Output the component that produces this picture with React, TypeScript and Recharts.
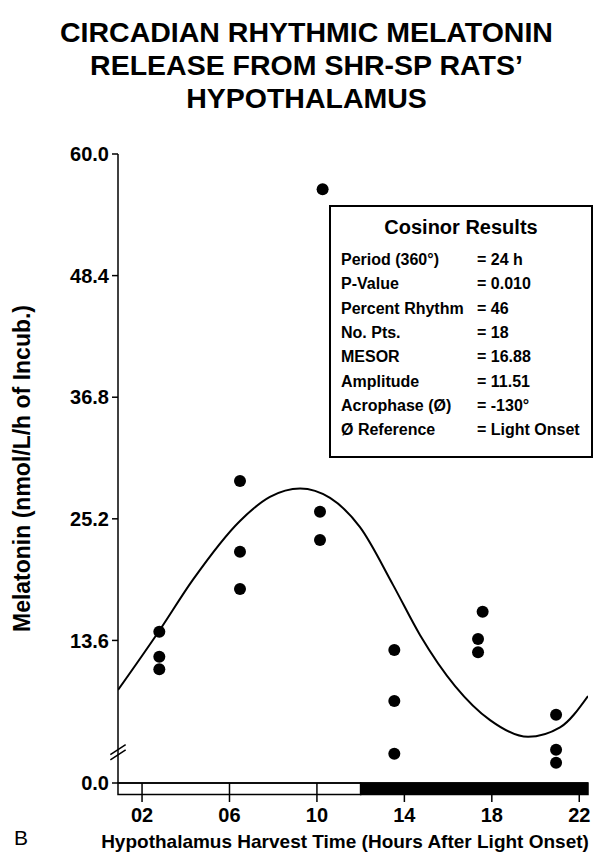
import React from "react"
import {
  ComposedChart,
  Line,
  Scatter,
  XAxis,
  YAxis,
  ReferenceArea,
  ReferenceLine,
} from "recharts"

// harvest time (h after light onset) and melatonin per animal
const harvestHours = [2.79, 2.79, 2.79, 6.48, 6.48, 6.48, 10.14, 10.14, 10.26, 13.54, 13.54, 13.54, 17.58, 17.37, 17.37, 20.94, 20.94, 20.94]
const melatonin = [14.43, 12.05, 10.85, 28.81, 22.06, 18.51, 25.88, 23.18, 56.64, 12.69, 7.82, 2.8, 16.34, 13.74, 12.47, 6.52, 3.18, 1.94]

// fitted cosinor curve
const fitHours = [0.9, 2.78, 4.33, 6.48, 7.85, 9.23, 10.6, 11.97, 13.48, 14.72, 16.32, 17.92, 19.66, 21.12, 22.4]
const fitValues = [8.87, 14.5, 19.4, 25.0, 27.3, 28.1, 27.2, 24.4, 18.9, 14.1, 9.25, 6.0, 4.4, 5.3, 8.3]

const xTicks = [2, 6, 10, 14, 18, 22]
const yTicks = [0, 13.6, 25.2, 36.8, 48.4, 60]

// light / dark phases
const phaseStart = [0.9, 12]
const phaseEnd = [12, 22.4]
const phaseDark = [false, true]

const cosinorLabels = ["Period (360°)", "P-Value", "Percent Rhythm", "No. Pts.", "MESOR", "Amplitude", "Acrophase (Ø)", "Ø Reference"]
const cosinorValues = ["= 24 h", "= 0.010", "= 46", "= 18", "= 16.88", "= 11.51", "= -130°", "= Light Onset"]

const points = harvestHours.map((h, i) => ({ hour: h, value: melatonin[i] }))
const fit = fitHours.map((h, i) => ({ hour: h, value: fitValues[i] }))

const font = '"Liberation Sans", Arial, Helvetica, sans-serif'

export default function App() {
  return (
    <div style={{ position: "absolute", left: 0, top: 0, width: 603, height: 861, background: "#fff", fontFamily: font }}>
      <div
        style={{
          position: "absolute",
          top: 16,
          left: 0,
          width: 613,
          textAlign: "center",
          fontSize: 28.5,
          lineHeight: "33px",
          fontWeight: 700,
        }}
      >
        CIRCADIAN RHYTHMIC MELATONIN
        <br />
        RELEASE FROM SHR-SP RATS’
        <br />
        HYPOTHALAMUS
      </div>

      <ComposedChart width={603} height={861} margin={{ top: 154, right: 15, bottom: 0, left: 0 }}>
        <XAxis
          dataKey="hour"
          type="number"
          domain={[0.9, 22.4]}
          allowDataOverflow
          ticks={xTicks}
          tickFormatter={(v) => String(v).padStart(2, "0")}
          height={78}
          tickSize={19}
          tickMargin={6}
          stroke="#000"
          strokeWidth={1.5}
          tick={{ fill: "#000", fontSize: 20, fontWeight: 700, fontFamily: font }}
          label={{
            value: "Hypothalamus Harvest Time (Hours After Light Onset)",
            position: "insideBottom",
            offset: 13,
            dx: -8,
            style: { fill: "#000", fontSize: 19, fontWeight: 700, fontFamily: font },
          }}
        />
        <YAxis
          type="number"
          domain={[0, 60]}
          ticks={yTicks}
          tickFormatter={(v) => v.toFixed(1)}
          width={118}
          tickSize={6}
          tickMargin={3}
          stroke="#000"
          strokeWidth={1.5}
          tick={{ fill: "#000", fontSize: 20, fontWeight: 700, fontFamily: font }}
          label={{
            value: "Melatonin (nmol/L/h of Incub.)",
            angle: -90,
            position: "insideLeft",
            offset: 22,
            style: { textAnchor: "middle", fill: "#000", fontSize: 23, fontWeight: 700, fontFamily: font },
          }}
        />
        {phaseStart.map((s, i) => (
          <ReferenceArea
            key={i}
            x1={s}
            x2={phaseEnd[i]}
            y1={-1.1}
            y2={0}
            ifOverflow="visible"
            fill={phaseDark[i] ? "#000" : "#fff"}
            fillOpacity={phaseDark[i] ? 1 : 0}
            stroke="#000"
            strokeWidth={1.5}
          />
        ))}
        {/* axis break marks */}
        <ReferenceLine
          ifOverflow="visible"
          segment={[{ x: 0.55, y: 2.2 }, { x: 1.25, y: 3.15 }]}
          stroke="#000"
          strokeWidth={1.5}
        />
        <ReferenceLine
          ifOverflow="visible"
          segment={[{ x: 0.55, y: 2.7 }, { x: 1.25, y: 3.65 }]}
          stroke="#000"
          strokeWidth={1.5}
        />
        <Line
          data={fit}
          dataKey="value"
          type="monotone"
          stroke="#000"
          strokeWidth={2}
          dot={false}
          isAnimationActive={false}
        />
        <Scatter
          data={points}
          dataKey="value"
          fill="#000"
          isAnimationActive={false}
          shape={(p: any) => <circle cx={p.cx} cy={p.cy} r={6} fill="#000" />}
        />
      </ComposedChart>

      <div
        style={{
          position: "absolute",
          left: 329,
          top: 205,
          width: 260,
          height: 249,
          border: "2px solid #000",
          fontWeight: 700,
        }}
      >
        <div style={{ position: "absolute", top: 8, left: 0, width: "100%", textAlign: "center", fontSize: 20, lineHeight: "24px" }}>
          Cosinor Results
        </div>
        {cosinorLabels.map((l, i) => (
          <div key={l} style={{ position: "absolute", top: 43 + i * 24.3, left: 10, fontSize: 16, lineHeight: "20px", whiteSpace: "nowrap" }}>
            {l}
          </div>
        ))}
        {cosinorValues.map((v, i) => (
          <div key={v} style={{ position: "absolute", top: 43 + i * 24.3, left: 146, fontSize: 16, lineHeight: "20px", whiteSpace: "nowrap" }}>
            {v}
          </div>
        ))}
      </div>

      <div style={{ position: "absolute", left: 14, top: 826, fontSize: 21, lineHeight: "24px" }}>B</div>
    </div>
  )
}
